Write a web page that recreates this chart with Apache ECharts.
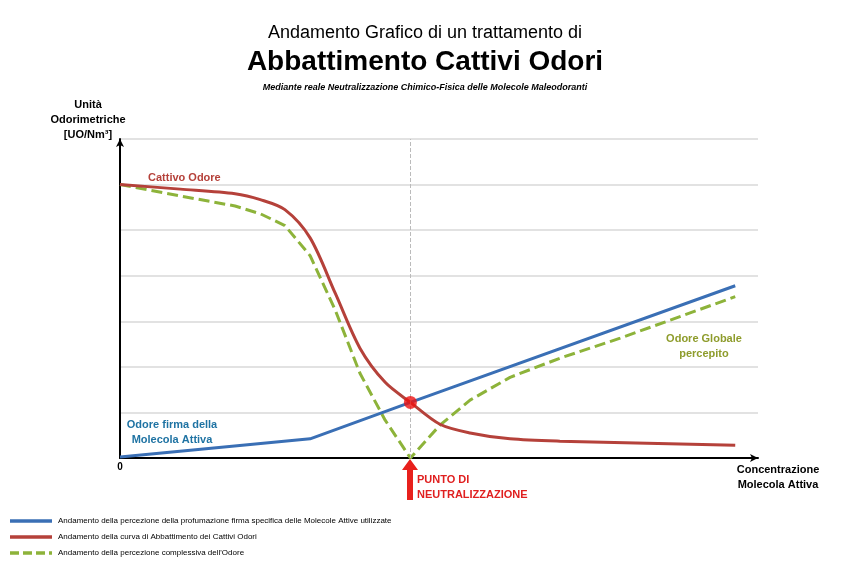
<!DOCTYPE html>
<html><head><meta charset="utf-8">
<script src="https://cdn.jsdelivr.net/npm/echarts@6/dist/echarts.min.js"></script>
<style>html,body{margin:0;background:#fff}#c{width:850px;height:570px}</style></head>
<body><div id="c"></div>
<script>
const redX = [0, 9.8, 18.7, 22.8, 26.8, 30.9, 35, 39, 43.1, 47.2, 52, 56.9, 63.4, 71.5, 100];
const redY = [6.0, 5.9, 5.8, 5.67, 5.45, 4.83, 3.61, 2.41, 1.66, 1.22, 0.74, 0.55, 0.42, 0.37, 0.28];
const blueX = [0, 30.9, 47.2, 100];
const blueY = [0.02, 0.42, 1.22, 3.78];
const greenX = [0, 9.8, 18.7, 22.8, 26.8, 30.9, 35, 39, 43.1, 47.2, 52, 56.9, 63.4, 71.5, 81.3, 100];
const greenY = [6.0, 5.75, 5.53, 5.36, 5.1, 4.44, 3.24, 1.86, 0.83, 0, 0.72, 1.27, 1.77, 2.19, 2.63, 3.54];
const neutral = [47.2, 1.22];
const legendLabels = [
 "Andamento della percezione della profumazione firma specifica delle Molecole Attive utilizzate",
 "Andamento della curva di Abbattimento dei Cattivi Odori",
 "Andamento della percezione complessiva dell'Odore"
];
const BLUE='#3a6fb5', RED='#b5413a', GREEN='#8db33a';
const zip=(a,b)=>a.map((v,i)=>[v,b[i]]);
const F='Liberation Sans, Arial, sans-serif';
const chart = echarts.init(document.getElementById('c'));
const txt=(x,y,t,o)=>({type:'text',x,y,style:Object.assign({text:t,font:'bold 11px '+F,fill:'#000'},o)});
const graphics=[
 txt(425,33,'Andamento Grafico di un trattamento di',{font:'18px '+F,align:'center',verticalAlign:'middle'}),
 txt(425,62,'Abbattimento Cattivi Odori',{font:'bold 28px '+F,align:'center',verticalAlign:'middle'}),
 txt(425,88,'Mediante reale Neutralizzazione Chimico-Fisica delle Molecole Maleodoranti',{font:'italic bold 9px '+F,align:'center',verticalAlign:'middle'}),
 txt(88,120,'Unità\nOdorimetriche\n[UO/Nm³]',{font:'bold 11px '+F,align:'center',verticalAlign:'middle',lineHeight:15}),
 txt(120,467,'0',{font:'bold 10px '+F,align:'center',verticalAlign:'middle'}),
 txt(778,477,'Concentrazione\nMolecola Attiva',{font:'bold 11px '+F,align:'center',verticalAlign:'middle',lineHeight:15}),
 txt(148,178,'Cattivo Odore',{fill:RED,verticalAlign:'middle'}),
 txt(172,432,'Odore firma della\nMolecola Attiva',{fill:'#1f73a3',align:'center',verticalAlign:'middle',lineHeight:15}),
 txt(704,346,'Odore Globale\npercepito',{fill:'#8e9c2c',align:'center',verticalAlign:'middle',lineHeight:15}),
 txt(417,487,'PUNTO DI\nNEUTRALIZZAZIONE',{fill:'#e02020',verticalAlign:'middle',lineHeight:15}),
 {type:'polygon',shape:{points:[[410,459],[402,470],[407,470],[407,500],[413,500],[413,470],[418,470]]},style:{fill:'#e8201c'}}
];
[BLUE,RED,GREEN].forEach((c,i)=>{
 const y=521+i*16;
 graphics.push({type:'line',shape:{x1:10,y1:y,x2:52,y2:y},style:{stroke:c,lineWidth:3.5,lineDash:i===2?[9,4]:null}});
 graphics.push(txt(58,y,legendLabels[i],{font:'8px '+F,verticalAlign:'middle'}));
});
chart.setOption({
 animation:false,
 grid:{left:120,right:92,top:139,bottom:112},
 xAxis:{type:'value',min:0,max:103.7,axisLine:{lineStyle:{color:'#000',width:2},symbol:['none','arrow'],symbolSize:[6,8]},axisTick:{show:false},axisLabel:{show:false},splitLine:{show:false}},
 yAxis:{type:'value',min:0,max:7,interval:1,axisLine:{show:true,lineStyle:{color:'#000',width:2},symbol:['none','arrow'],symbolSize:[6,8]},axisTick:{show:false},axisLabel:{show:false},splitLine:{lineStyle:{color:'#d9d9d9',width:1.5}}},
 series:[
  {type:'line',data:zip(blueX,blueY),symbol:'none',lineStyle:{color:BLUE,width:3},z:3},
  {type:'line',data:zip(redX,redY),symbol:'none',smooth:0.3,lineStyle:{color:RED,width:3},z:4,
   markLine:{silent:true,symbol:'none',label:{show:false},lineStyle:{color:'#bbb',type:'dashed',width:1},data:[{xAxis:neutral[0]}]}},
  {type:'line',data:zip(greenX,greenY),symbol:'none',lineStyle:{color:GREEN,width:3,type:[11,5]},z:2},
  {type:'scatter',data:[neutral],symbolSize:13,itemStyle:{color:'#ee1111'},z:6}
 ],
 graphic:graphics
});
</script></body></html>
